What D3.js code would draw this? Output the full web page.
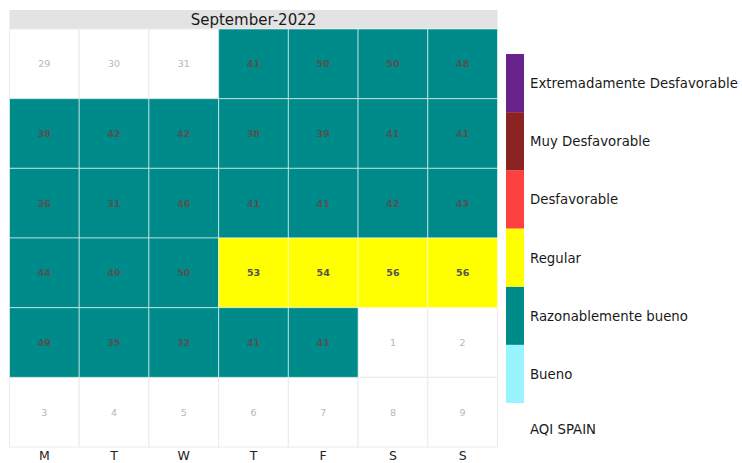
<!DOCTYPE html>
<html>
<head>
<meta charset="utf-8">
<script src="https://cdn.jsdelivr.net/npm/d3@7"></script>
<style>
  body { margin: 0; background: #fff; }
  text { font-family: "DejaVu Sans", sans-serif; }
</style>
</head>
<body>
<div id="chart"></div>
<script>
const monthTitle = 'September-2022';
const weekdays = ['M', 'T', 'W', 'T', 'F', 'S', 'S'];
const weeks = [0, 1, 2, 3, 4, 5];
// day numbers shown in the grid, week by week (Monday first)
const dayNumbers = [
  29, 30, 31, 1, 2, 3, 4,
  5, 6, 7, 8, 9, 10, 11,
  12, 13, 14, 15, 16, 17, 18,
  19, 20, 21, 22, 23, 24, 25,
  26, 27, 28, 29, 30, 1, 2,
  3, 4, 5, 6, 7, 8, 9
];
// AQI value per cell, null = outside September
const aqiValues = [
  null, null, null, 41, 50, 50, 48,
  38, 42, 42, 38, 39, 41, 41,
  36, 31, 46, 41, 41, 42, 43,
  44, 49, 50, 53, 54, 56, 56,
  49, 35, 32, 41, 41, null, null,
  null, null, null, null, null, null, null
];
const categories = ['Bueno', 'Razonablemente bueno', 'Regular', 'Desfavorable', 'Muy Desfavorable', 'Extremadamente Desfavorable'];
const catColors = ['#98F5FF', '#008B8B', '#FFFF00', '#FF4040', '#8B2323', '#68228B'];
const breaks = [25, 51, 100, 150, 200];
const legendTitle = 'AQI SPAIN';

const w = 742, h = 463;
const svg = d3.select('#chart').append('svg').attr('width', w).attr('height', h);

const panelLeft = 9.5, panelRight = 497.5, stripTop = 10, gridTop = 29, gridBottom = 447;

const x = d3.scaleBand().domain(d3.range(7)).range([panelLeft, panelRight]);
const y = d3.scaleBand().domain(weeks).range([gridTop, gridBottom]);
const color = d3.scaleThreshold().domain(breaks).range(catColors);

const cells = dayNumbers.map((d, i) => ({ day: d, value: aqiValues[i], col: i % 7, row: Math.floor(i / 7) }));

// strip
svg.append('rect').attr('x', panelLeft).attr('y', stripTop).attr('width', panelRight - panelLeft).attr('height', gridTop - stripTop)
  .attr('fill', '#e3e3e3');
svg.append('text').attr('x', (panelLeft + panelRight) / 2).attr('y', (stripTop + gridTop) / 2 + 5.5)
  .attr('text-anchor', 'middle').attr('font-size', 15).attr('fill', '#1a1a1a').text(monthTitle);

// empty cells first
svg.selectAll('rect.empty').data(cells.filter(d => d.value === null)).enter().append('rect')
  .attr('class', 'empty')
  .attr('x', d => x(d.col)).attr('y', d => y(d.row))
  .attr('width', x.bandwidth()).attr('height', y.bandwidth())
  .attr('fill', '#fff').attr('stroke', '#ebebeb').attr('stroke-width', 1);

svg.selectAll('rect.tile').data(cells.filter(d => d.value !== null)).enter().append('rect')
  .attr('class', 'tile')
  .attr('x', d => x(d.col)).attr('y', d => y(d.row))
  .attr('width', x.bandwidth()).attr('height', y.bandwidth())
  .attr('fill', d => color(d.value)).attr('stroke', 'rgba(255,255,255,0.55)').attr('stroke-width', 1);

svg.selectAll('text.day').data(cells.filter(d => d.value === null)).enter().append('text')
  .attr('class', 'day')
  .attr('x', d => x(d.col) + x.bandwidth() / 2).attr('y', d => y(d.row) + y.bandwidth() / 2 + 3.5)
  .attr('text-anchor', 'middle').attr('font-size', 9.5).attr('fill', '#b8b8b8')
  .text(d => d.day);

svg.selectAll('text.val').data(cells.filter(d => d.value !== null)).enter().append('text')
  .attr('class', 'val')
  .attr('x', d => x(d.col) + x.bandwidth() / 2).attr('y', d => y(d.row) + y.bandwidth() / 2 + 3.5)
  .attr('text-anchor', 'middle').attr('font-size', 9.5).attr('font-weight', 'bold').attr('fill', '#525252')
  .text(d => d.value);

// weekday axis
svg.selectAll('text.wd').data(weekdays).enter().append('text')
  .attr('class', 'wd')
  .attr('x', (d, i) => x(i) + x.bandwidth() / 2).attr('y', 459.5)
  .attr('text-anchor', 'middle').attr('font-size', 12.5).attr('fill', '#222')
  .text(d => d);

// legend
const legTop = 54, legBottom = 403;
const ly = d3.scaleBand().domain(categories.slice().reverse()).range([legTop, legBottom]);
const legend = svg.append('g');
legend.selectAll('rect').data(categories).enter().append('rect')
  .attr('x', 506).attr('y', d => ly(d)).attr('width', 18).attr('height', ly.bandwidth())
  .attr('fill', (d, i) => catColors[i]);
legend.selectAll('text').data(categories).enter().append('text')
  .attr('x', 530).attr('y', d => ly(d) + ly.bandwidth() / 2 + 5)
  .attr('font-size', 13.3).attr('fill', '#1a1a1a').text(d => d);
svg.append('text').attr('x', 530).attr('y', 434).attr('font-size', 13.3).attr('fill', '#1a1a1a').text(legendTitle);
</script>
</body>
</html>
